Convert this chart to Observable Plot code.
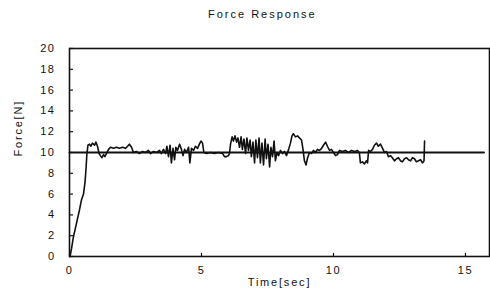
<!DOCTYPE html>
<html>
<head>
<meta charset="utf-8">
<script src="https://cdn.jsdelivr.net/npm/d3@7"></script>
<script src="https://cdn.jsdelivr.net/npm/@observablehq/plot@0.6"></script>
<style>
  body { margin: 0; background: #fff; width: 490px; }
  #title { height: 28px; line-height: 28px; font-family: "Liberation Sans", Arial, sans-serif; font-size: 11px; letter-spacing: 2px; padding-left: 208px; color: #111; }
  #chart svg text { letter-spacing: 1.5px; }
  #chart svg g[aria-label="text"] text { letter-spacing: 1.8px; }
</style>
</head>
<body>
<div id="title">Force Response</div>
<div id="chart"></div>
<script>
const time = [0.02,0.08,0.15,0.23,0.30,0.38,0.45,0.53,0.59,0.63,0.66,0.70,
  0.76,0.81,0.87,0.95,1.00,1.06,1.12,1.17,1.23,1.29,1.34,1.40,1.48,1.55,1.67,1.78,1.89,2.01,2.12,2.20,2.27,2.35,
  2.42,2.54,2.65,2.77,2.88,2.99,3.07,3.18,3.30,3.41,3.48,3.56,3.64,3.69,3.75,3.81,3.86,3.92,3.98,4.03,4.09,4.17,
  4.24,4.30,4.36,4.43,4.51,4.56,4.62,4.70,4.77,4.85,4.92,4.98,5.04,5.09,5.19,5.34,5.49,5.64,5.80,5.87,5.95,6.02,
  6.06,6.10,6.16,6.21,6.27,6.33,6.38,6.44,6.50,6.55,6.61,6.67,6.72,6.78,6.84,6.89,6.95,7.01,7.06,7.12,7.18,7.23,
  7.29,7.35,7.41,7.46,7.52,7.58,7.63,7.69,7.75,7.80,7.86,7.92,7.99,8.07,8.14,8.22,8.30,8.37,8.43,8.48,8.56,8.64,
  8.71,8.79,8.84,8.90,8.96,9.02,9.09,9.17,9.24,9.32,9.39,9.47,9.55,9.62,9.70,9.77,9.85,9.92,10.00,10.08,10.15,
  10.23,10.34,10.45,10.57,10.68,10.80,10.91,10.98,11.02,11.10,11.17,11.25,11.29,11.33,11.40,11.48,11.55,11.63,
  11.70,11.78,11.86,11.93,12.01,12.08,12.16,12.23,12.31,12.39,12.46,12.54,12.61,12.69,12.77,12.84,12.92,12.99,
  13.07,13.14,13.22,13.30,13.37,13.43,13.45];
const force = [0,0.8,1.9,2.8,3.6,4.5,5.4,6.0,7.2,8.6,9.9,10.7,
  10.8,10.6,10.9,10.7,11.0,10.6,9.9,9.7,9.5,9.8,9.6,9.9,10.3,10.5,10.4,10.5,10.4,10.5,10.4,10.6,10.8,10.5,
  10.0,10.1,9.9,10.1,10.0,10.2,9.9,10.1,10.0,10.2,9.9,10.3,9.9,10.6,9.6,10.7,9.0,10.4,9.3,10.5,10.2,10.8,
  10.3,9.7,10.3,10.0,10.5,9.0,10.4,10.2,10.6,10.4,10.8,11.1,10.9,10.0,9.9,10.0,9.9,10.0,9.9,9.6,9.6,9.7,
  9.9,10.8,11.5,11.1,11.6,11.0,11.4,10.5,11.5,10.3,11.3,9.9,11.4,10.2,11.2,9.6,11.0,9.0,11.2,9.5,11.4,9.0,
  10.9,8.8,11.3,9.4,10.8,8.6,10.5,9.6,11.1,9.2,10.0,9.7,10.2,9.9,10.1,9.7,10.3,10.9,11.6,11.8,11.5,11.6,
  11.4,11.2,10.4,9.2,8.8,9.5,10.0,9.9,10.2,10.0,10.3,10.2,10.4,10.7,11.0,10.6,10.2,10.3,10.0,9.7,9.8,
  10.2,10.1,10.2,10.0,10.2,10.1,10.2,10.0,9.0,9.1,8.9,9.2,9.0,10.2,10.1,10.3,10.7,10.9,
  10.6,10.8,10.4,10.0,10.1,9.6,9.7,9.5,9.2,9.4,9.5,9.2,9.1,9.4,9.5,9.3,9.2,9.5,
  9.4,9.1,9.2,9.3,9.0,9.2,11.1];
const targetTime = [0, 15.7];
const targetForce = [10, 10];
const yTicks = [0, 2, 4, 6, 8, 10, 12, 14, 16, 18, 20];
const xTicks = [0, 5, 10, 15];
const xLabel = "Time[sec]";
const yLabel = "Force[N]";

const series = time.map((t, i) => ({t, f: force[i]}));
const target = targetTime.map((t, i) => ({t, f: targetForce[i]}));

const chart = Plot.plot({
  width: 490,
  height: 272,
  marginTop: 20,
  marginBottom: 44,
  marginLeft: 69,
  marginRight: 1,
  x: {domain: [0, 15.91]},
  y: {domain: [0, 20]},
  style: {fontFamily: "'Liberation Sans', Arial, sans-serif", fontSize: "11px", color: "#111", background: "#fff"},
  marks: [
    Plot.axisY({ticks: yTicks, tickSize: -4, tickPadding: 18, label: null, strokeWidth: 1.2}),
    Plot.axisX({ticks: xTicks, tickSize: -3, tickPadding: 13, label: null, strokeWidth: 1.2}),
    Plot.line(target, {x: "t", y: "f", stroke: "#111", strokeWidth: 2}),
    Plot.line(series, {x: "t", y: "f", stroke: "#111", strokeWidth: 1.6, strokeLinejoin: "round"}),
    Plot.frame({stroke: "#111", strokeWidth: 1.6}),
    Plot.text([xLabel], {frameAnchor: "bottom", dy: 29, text: d => d, fontSize: 11}),
    Plot.text([yLabel], {frameAnchor: "left", dx: -51, dy: 4, rotate: -90, text: d => d, fontSize: 11})
  ]
});
document.getElementById("chart").appendChild(chart);
</script>
</body>
</html>
